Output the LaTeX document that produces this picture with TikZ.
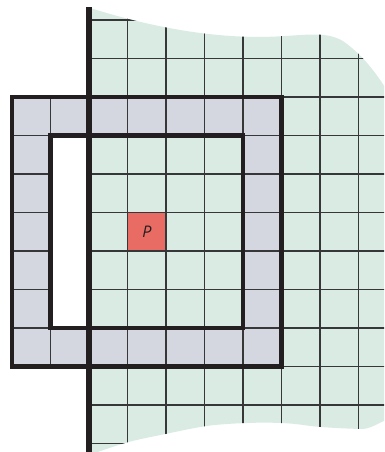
\documentclass[tikz,border=0pt]{standalone}
\usepackage{fontspec}
\newfontfamily\labelfont{PT Sans}
\usetikzlibrary{positioning}
\definecolor{cInk}{RGB}{35,31,32}
\definecolor{cLine}{RGB}{55,55,58}
\definecolor{cFillGreen}{RGB}{218,235,228}
\definecolor{cFillGray}{RGB}{213,215,224}
\definecolor{cFillRed}{RGB}{233,108,100}
\tikzset{
  gridline/.style={draw=cLine, line width=0.8pt},
  boxline/.style={draw=cInk, line width=3pt},
  wall/.style={draw=cInk, line width=5pt},
  pcell/.style={rectangle, fill=cFillRed, minimum size=1cm, inner sep=0pt,
                font=\labelfont\itshape\large, text=cInk},
}
% outline of the green region (right of the wall)
\newcommand{\greenpath}{%
  (0,11.32) .. controls (1.5,10.85) and (3,10.55) .. (4.5,10.56)
  .. controls (5.5,10.57) and (6.1,10.75) .. (6.6,10.45)
  .. controls (7.1,10.1) and (7.5,9.6) .. (7.9,8.9)
  -- (8.2,8.9) -- (8.2,0.6)
  -- plot[smooth, tension=0.6] coordinates {(7.9,0.62) (7.7,0.6) (7.3,0.42) (7,0.38)
    (6,0.43) (5.2,0.52) (4.4,0.54) (3.5,0.5) (2.9,0.43) (2,0.25) (1,0.03) (0,-0.3)}
  -- cycle}

\begin{document}
\begin{tikzpicture}

%% frame
\useasboundingbox (-2.312,-0.221) rectangle (7.662,11.519);
\clip (-2.312,-0.221) rectangle (7.662,11.519);

%% ----- fills -----
\fill[cFillGreen] \greenpath;
\fill[cFillGray, even odd rule] (-2,2) rectangle (5,9) (-1,3) rectangle (4,8);
\node[pcell] (cellP) at (1.5,5.5) {P};

%% ----- grid -----
\begin{scope}
  \clip \greenpath;
  \draw[gridline] (0,-1) grid (9,12);
\end{scope}
\draw[gridline] (-2,2) grid (-1,9);
\draw[gridline] (-1,2) grid (0,3);
\draw[gridline] (-1,8) grid (0,9);

%% ----- boxes and wall -----
\draw[boxline] (-2,2) rectangle (5,9);
\draw[boxline] (-1,3) rectangle (4,8);
\draw[wall] (0,-0.5) -- (0,11.34);

\end{tikzpicture}
\end{document}
